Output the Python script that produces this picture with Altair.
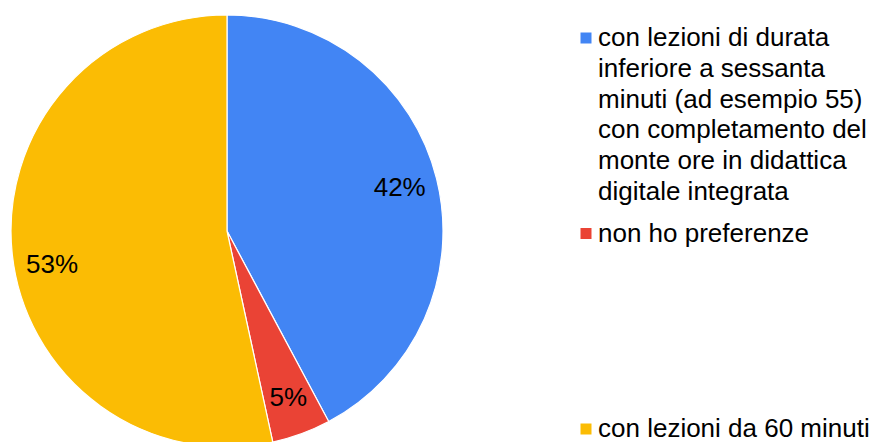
import altair as alt
import pandas as pd

categories = [
    "con lezioni di durata inferiore a sessanta minuti (ad esempio 55) con completamento del monte ore in didattica digitale integrata",
    "non ho preferenze",
    "con lezioni da 60 minuti",
]
legend_labels = [
    "con lezioni di durata\ninferiore a sessanta\nminuti (ad esempio 55)\ncon completamento del\nmonte ore in didattica\ndigitale integrata",
    "non ho preferenze",
    "con lezioni da 60 minuti",
]
shares = [42.2, 4.4, 53.4]
pct_labels = ["42%", "5%", "53%"]
colors = ["#4285F4", "#EA4335", "#FBBC04"]

df = pd.DataFrame({
    "category": categories,
    "legend": legend_labels,
    "share": shares,
    "label": pct_labels,
    "idx": list(range(len(categories))),
})

FONT = "Liberation Sans"
CX, CY, R = 219, 223, 216

color_scale = alt.Scale(domain=categories, range=colors)

base = alt.Chart(df)

arcs = base.mark_arc(outerRadius=R, stroke="white", strokeWidth=1.2).encode(
    theta=alt.Theta("share:Q", stack=True),
    color=alt.Color("category:N", scale=color_scale, legend=None),
    order=alt.Order("idx:Q"),
    x=alt.value(CX),
    y=alt.value(CY),
)

lab_base = base.transform_joinaggregate(total="sum(share)").transform_window(
    cum="sum(share)", sort=[alt.SortField("idx")]
).transform_calculate(mid="(datum.cum - datum.share/2)/datum.total")

labels_main = lab_base.transform_filter("datum.idx < 2").mark_text(
    radius=178, font=FONT, fontSize=26, color="black", align="center", baseline="middle"
).encode(
    theta=alt.Theta("mid:Q", scale=alt.Scale(domain=[0, 1]), stack=None),
    text="label:N",
    x=alt.value(CX),
    y=alt.value(CY),
)

labels_big = lab_base.transform_filter("datum.idx == 2").mark_text(
    radius=176, dy=15, font=FONT, fontSize=26, color="black", align="center", baseline="middle"
).encode(
    theta=alt.Theta("mid:Q", scale=alt.Scale(domain=[0, 1]), stack=None),
    text="label:N",
    x=alt.value(CX),
    y=alt.value(CY),
)

ypos = alt.Y("category:N", scale=alt.Scale(domain=categories, range=[38, 429], type="point", padding=0), axis=None)

leg_sq = base.mark_square(size=121, yOffset=-8, opacity=1).encode(
    x=alt.value(578),
    y=ypos,
    color=alt.Color("category:N", scale=color_scale, legend=None),
)

leg_txt = base.mark_text(
    font=FONT, fontSize=26, align="left", baseline="alphabetic", lineBreak="\n", lineHeight=30.8, color="black"
).encode(
    x=alt.value(590),
    y=ypos,
    text="legend:N",
)

chart = alt.layer(arcs, labels_main, labels_big, leg_sq, leg_txt).resolve_scale(
    theta="independent"
).properties(
    width=864, height=434, autosize="none", padding=0
).configure_view(stroke=None)

chart.save("out.html", embed_options={"renderer": "svg", "actions": False})
